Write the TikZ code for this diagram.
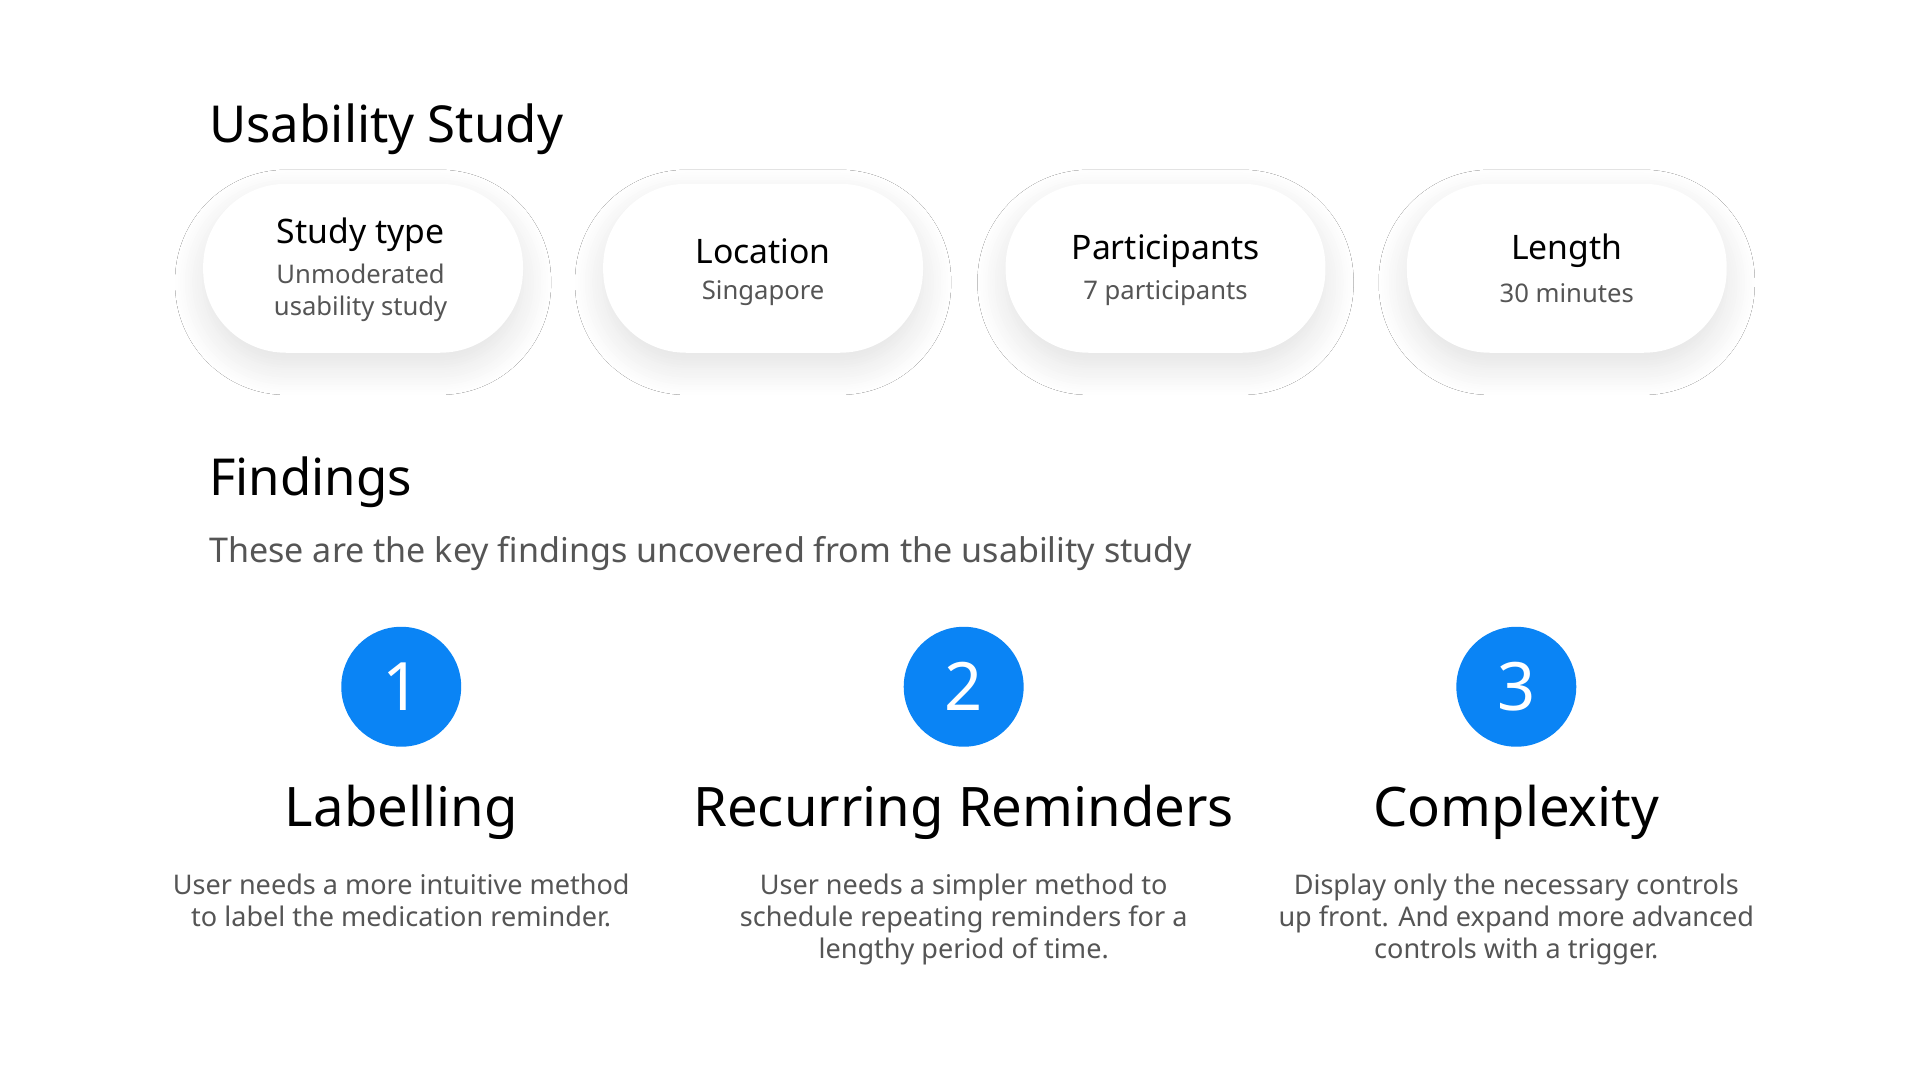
\documentclass[tikz,border=0pt]{standalone}
\usepackage{fontspec}
\setmainfont{Noto Sans}
\usetikzlibrary{positioning,shadows.blur}
\definecolor{findblue}{HTML}{0A84F5}
\definecolor{subgrey}{HTML}{555555}
\tikzset{
  card/.style={draw=none,fill=white,rounded corners=0.83cm,minimum width=3.2cm,minimum height=1.69cm,
    blur shadow={shadow xshift=0pt,shadow yshift=-4pt,shadow blur steps=12,shadow opacity=12,shadow blur radius=8pt}},
  cardtitle/.style={font=\fontsize{9.6}{11}\selectfont\bfseries,text=black},
  cardsub/.style={font=\fontsize{7.3}{9.2}\selectfont,text=subgrey,align=center},
  heading/.style={font=\fontsize{14.5}{16}\selectfont\bfseries,anchor=west},
  numdot/.style={circle,fill=findblue,minimum size=1.2cm,text=white,font=\fontsize{19}{20}\selectfont\bfseries},
  findtitle/.style={font=\fontsize{15.5}{17}\selectfont\bfseries},
  finddesc/.style={font=\fontsize{7.7}{9.1}\selectfont,text=subgrey,align=center,anchor=north}
}
\begin{document}
\begin{tikzpicture}[x=0.01231cm,y=-0.01231cm]
\useasboundingbox[fill=white] (0,0) rectangle (1560,878);
% study
\node[heading] (usab) at (160,105) {Usability Study};
\node[card] (c1) at (295,218) {};
\node[card] (c2) at (620,218) {};
\node[card] (c3) at (947,218) {};
\node[card] (c4) at (1273,218) {};
\node[cardtitle] (t1) at (293,191) {Study type};
\node[cardsub] (s1) at (293,238) {Unmoderated\\usability study};
\node[cardtitle] (t2) at (620,204) {Location};
\node[cardsub] (s2) at (620,238) {Singapore};
\node[cardtitle] (t3) at (947,204) {Participants};
\node[cardsub] (s3) at (947,238) {7 participants};
\node[cardtitle] (t4) at (1273,204) {Length};
\node[cardsub] (s4) at (1273,238) {30 minutes};
% findings
\node[heading] (find) at (160,392) {Findings};
\node[anchor=west,font=\fontsize{9.7}{11}\selectfont,text=subgrey] (intro) at (160,450) {These are the key findings uncovered from the usability study};
\foreach \n/\x/\t/\d in {1/326/Labelling/{User needs a more intuitive method\\to label the medication reminder.},
  2/783/Recurring Reminders/{User needs a simpler method to\\schedule repeating reminders for a\\lengthy period of time.},
  3/1232/Complexity/{Display only the necessary controls\\up front. And expand more advanced\\controls with a trigger.}}{
  \node[numdot] (dot\n) at (\x,558) {\n};
  \node[findtitle] (ft\n) at (\x,660) {\t};
  \node[finddesc] (fd\n) at (\x,700) {\d};
}
\end{tikzpicture}
\end{document}
